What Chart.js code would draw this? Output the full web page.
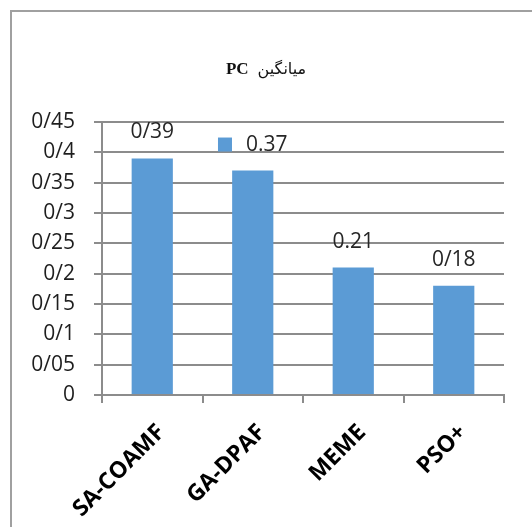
<!DOCTYPE html>
<html>
<head>
<meta charset="utf-8">
<script src="https://cdn.jsdelivr.net/npm/chart.js@4/dist/chart.umd.min.js"></script>
<style>
  html, body { margin: 0; padding: 0; background: #fff; overflow: hidden; }
  #wrap { position: relative; width: 532px; height: 527px; }
  #frame { position: absolute; left: 10px; top: 10px; width: 600px; height: 600px;
           border: 2px solid #a0a0a0; box-sizing: border-box; }
  canvas { position: absolute; left: 0; top: 0; }
</style>
</head>
<body>
<div id="wrap">
  <div id="frame"></div>
  <canvas id="c" width="532" height="527"></canvas>
</div>
<script>
// Average PC per method
const categories = ['SA-COAMF', 'GA-DPAF', 'MEME', 'PSO+'];
const pcMeans = [0.39, 0.37, 0.21, 0.18];
const valueLabels = ['0/39', '0.37', '0.21', '0/18'];
const yTickLabels = ['0', '0/05', '0/1', '0/15', '0/2', '0/25', '0/3', '0/35', '0/4', '0/45'];
const titleLatin = 'PC';
const titlePersian = 'میانگین';

const BAR_BLUE = '#5b9bd5';
const AXIS_GREY = '#8c8c8c';
const TEXT_FONT = "'Open Sans', 'DejaVu Sans', sans-serif";

// Title: bold Latin part on the left, Persian word on the right
const titlePlugin = {
  id: 'mixedTitle',
  afterDraw(chart) {
    const ctx = chart.ctx;
    ctx.save();
    ctx.textBaseline = 'alphabetic';
    ctx.fillStyle = '#111';
    const latinFont = "bold 17px 'Liberation Serif', serif";
    const faFont = "16px 'DejaVu Sans', sans-serif";
    ctx.font = latinFont;
    const wL = ctx.measureText(titleLatin).width;
    ctx.font = faFont;
    const wF = ctx.measureText(titlePersian).width;
    const gap = 9;
    const total = wL + gap + wF;
    const x0 = 266 - total / 2;
    const baseline = 74;
    ctx.textAlign = 'left';
    ctx.font = latinFont;
    ctx.fillText(titleLatin, x0, baseline);
    ctx.font = faFont;
    ctx.fillText(titlePersian, x0 + wL + gap, baseline);
    ctx.restore();
  }
};

// Value labels above each bar; the second one carries a legend key square
const valueLabelPlugin = {
  id: 'valueLabels',
  afterDatasetsDraw(chart) {
    const ctx = chart.ctx;
    const meta = chart.getDatasetMeta(0);
    ctx.save();
    ctx.font = '21px ' + TEXT_FONT;
    ctx.fillStyle = '#262626';
    ctx.textBaseline = 'middle';
    meta.data.forEach((bar, i) => {
      const text = valueLabels[i];
      const y = bar.y - 26;
      const tw = ctx.measureText(text).width;
      if (i === 1) {
        const key = 14, gap = 14;
        const total = key + gap + tw;
        const left = bar.x - total / 2;
        ctx.fillStyle = BAR_BLUE;
        ctx.fillRect(left, y - key / 2, key, key);
        ctx.fillStyle = '#262626';
        ctx.textAlign = 'left';
        ctx.fillText(text, left + key + gap, y);
      } else {
        ctx.textAlign = 'center';
        ctx.fillText(text, bar.x, y);
      }
    });
    ctx.restore();
  }
};

new Chart(document.getElementById('c'), {
  type: 'bar',
  data: {
    labels: categories,
    datasets: [{
      label: 'PC',
      data: pcMeans,
      backgroundColor: BAR_BLUE,
      borderWidth: 0,
      barPercentage: 0.41,
      categoryPercentage: 1.0
    }]
  },
  options: {
    responsive: false,
    animation: false,
    devicePixelRatio: 1,
    layout: { padding: { top: 122, right: 28, left: 0, bottom: 0 } },
    plugins: {
      legend: { display: false },
      title: { display: false },
      tooltip: { enabled: false }
    },
    scales: {
      y: {
        min: 0,
        max: 0.45,
        afterFit(scale) { scale.width = 102; },
        afterBuildTicks(scale) {
          scale.ticks = yTickLabels.map((_, i) => ({ value: +(i * 0.05).toFixed(2) }));
        },
        ticks: {
          padding: 19,
          color: '#1e1e1e',
          font: { family: TEXT_FONT, size: 21 },
          callback: (v, i) => yTickLabels[i]
        },
        grid: { color: AXIS_GREY, lineWidth: 2, tickLength: 8, drawTicks: true },
        border: { display: true, color: AXIS_GREY, width: 2 }
      },
      x: {
        afterFit(scale) { scale.height = 132; },
        ticks: {
          maxRotation: 45,
          minRotation: 45,
          padding: 16,
          labelOffset: 9,
          color: '#000',
          font: { family: TEXT_FONT, size: 23, weight: 'bold' }
        },
        grid: { offset: true, drawOnChartArea: false, drawTicks: true, tickLength: 8, color: AXIS_GREY, lineWidth: 2 },
        border: { display: true, color: AXIS_GREY, width: 2 }
      }
    }
  },
  plugins: [titlePlugin, valueLabelPlugin]
});
</script>
</body>
</html>
